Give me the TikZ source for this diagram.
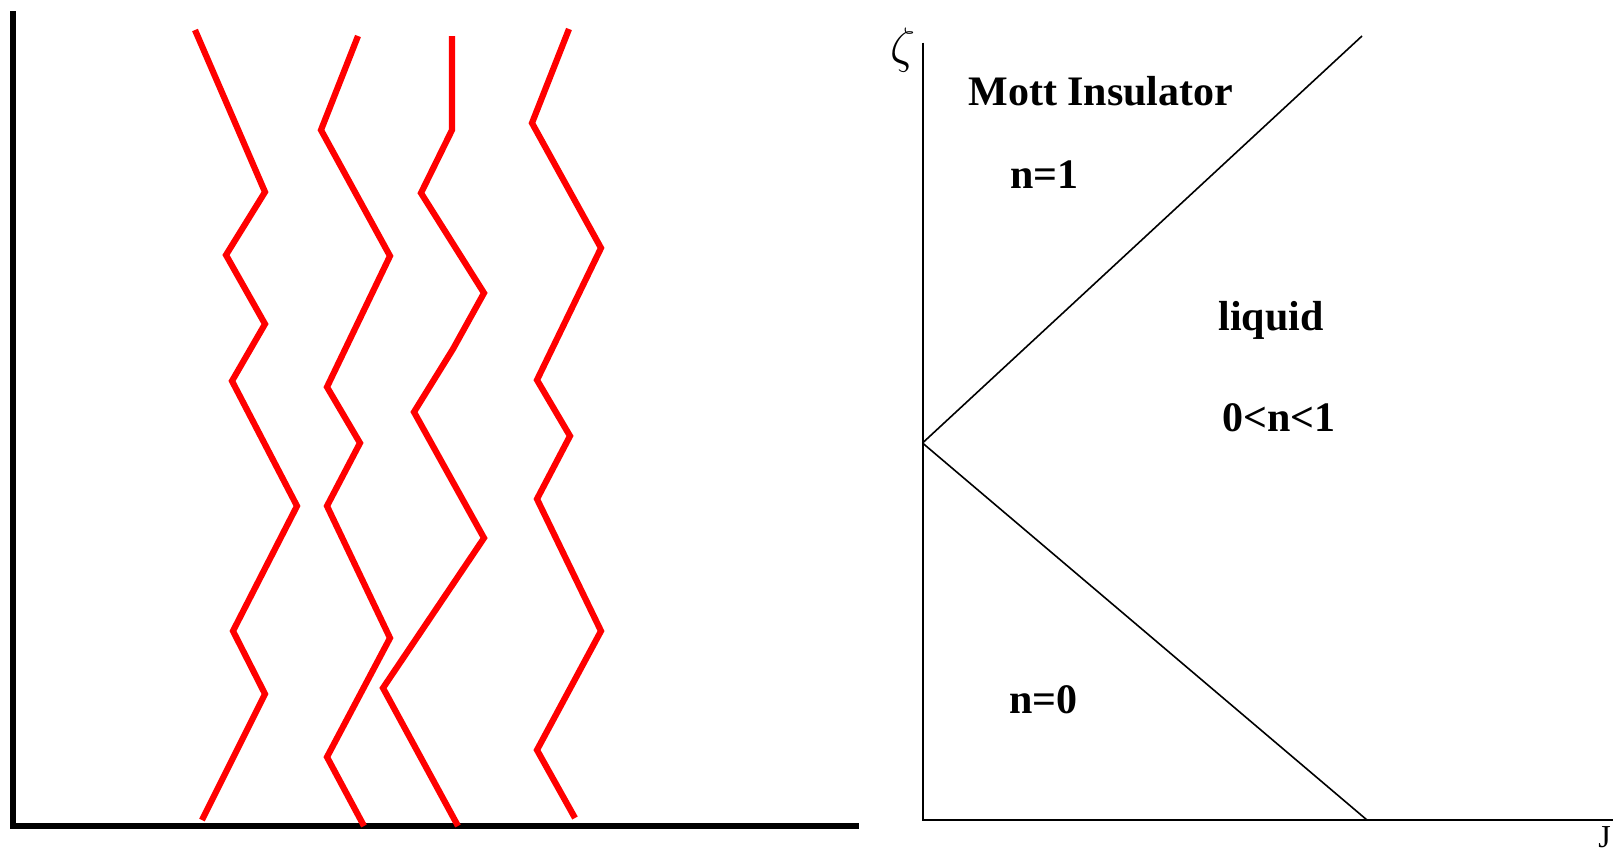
\documentclass[tikz,border=0pt]{standalone}
\usepackage{fontspec}
\setmainfont{Liberation Serif}
\tikzset{
  chain/.style={draw=red, line width=3.1pt},
  axisthick/.style={draw=black, line width=3.1pt},
  axisthin/.style={draw=black, line width=1pt},
  border/.style={draw=black, line width=0.8pt},
  lab/.style={anchor=base west, inner sep=0pt, font=\fontsize{21}{25}\selectfont\bfseries}
}
\begin{document}
\begin{tikzpicture}[x=0.5pt,y=-0.5pt]
\useasboundingbox (0,0) rectangle (1624,853);
% left panel axes
\coordinate (lt) at (13,11);
\coordinate (lo) at (13,826);
\coordinate (lr) at (859,826);
\draw[axisthick] (lt) -- (lo) -- (lr);
% red world lines
\draw[chain] (195,30) -- (265,192) -- (226,255) -- (265,324) -- (232,381) -- (297,506) -- (233,631) -- (265,694) -- (202,820);
\draw[chain] (358,36) -- (321,130) -- (390,256) -- (327,387) -- (360,443) -- (327,506) -- (390,638) -- (327,757) -- (364,826);
\draw[chain] (452,36) -- (452,130) -- (421,193) -- (484,293) -- (453,349) -- (414,412) -- (484,538) -- (383,688) -- (458,826);
\draw[chain] (569,29) -- (532,123) -- (601,248) -- (537,380) -- (570,436) -- (537,499) -- (601,631) -- (537,750) -- (575,818);
% right panel: phase diagram
\coordinate (zt) at (922.5,42.5);
\coordinate (o) at (922.5,820);
\coordinate (jr) at (1613,820);
\coordinate (tip) at (922.5,443);
\coordinate (ue) at (1362,36);
\coordinate (le) at (1367,820);
\draw[axisthin] (zt) -- (o) -- (jr);
\draw[border] (tip) -- (ue);
\draw[border] (tip) -- (le);
\node[anchor=center, inner sep=0pt] (zeta) at (903,50) {\fontsize{28}{32}\selectfont$\zeta$};
\node[anchor=north west, inner sep=0pt] (J) at (1598,826) {\fontsize{16}{19}\selectfont J};
\node[lab] (mott) at (968,105) {Mott Insulator};
\node[lab] (n1) at (1010,188) {n=1};
\node[lab] (liq) at (1218,330) {liquid};
\node[lab] (frac) at (1222,431) {0<n<1};
\node[lab] (n0) at (1009,713) {n=0};
\end{tikzpicture}
\end{document}
